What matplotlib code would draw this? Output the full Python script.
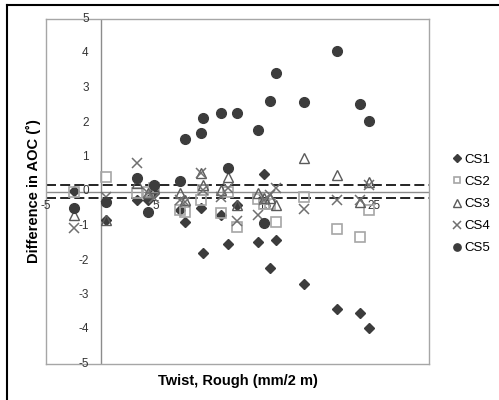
import numpy as np
import matplotlib.pyplot as plt
from matplotlib.lines import Line2D

plt.rcParams['font.family'] = ['Liberation Sans', 'DejaVu Sans']

# twist values shared by all series (mm/2 m)
twist = [-2.4, 0.45, 3.3, 4.3, 4.9, 7.2, 7.7, 9.15, 9.35, 11.0,
         11.6, 12.45, 14.35, 14.9, 15.45, 16.0, 18.6, 21.6, 23.7, 24.5]

cs1 = [0.02, -0.83, -0.25, -0.25, -0.05, -0.55, -0.87, -0.49, -1.79, -0.68,
       -1.52, -0.39, -1.47, 0.50, -2.21, -1.41, -2.69, -3.41, -3.51, -3.97]
cs2 = [0.0, 0.43, -0.05, 0.0, 0.09, -0.54, -0.6, -0.25, 0.04, -0.63,
       0.0, -1.04, -0.23, -0.35, -0.35, -0.89, -0.17, -1.1, -1.33, -0.54]
cs3 = [-0.68, -0.83, 0.24, -0.05, 0.1, -0.05, -0.25, 0.53, 0.2, 0.04,
       0.43, -0.39, -0.05, -0.2, -0.2, -0.39, 0.96, 0.48, -0.3, 0.28]
cs4 = [-1.07, -0.15, 0.82, -0.05, -0.2, -0.25, -0.3, 0.53, 0.04, -0.15,
       0.1, -0.85, -0.68, -0.25, -0.1, 0.09, -0.52, -0.25, -0.25, 0.19]
cs5 = [-0.49, -0.30, 0.38, -0.58, 0.19, 0.30, 1.51, 1.69, 2.14, 2.28,
       0.67, 2.27, 1.77, -0.92, 2.61, 3.43, 2.60, 4.07, 2.53, 2.04]

x_ticks = [-5, 5, 15, 25]
y_ticks = [-5, -4, -3, -2, -1, 0, 1, 2, 3, 4, 5]
tol = 0.2

fig = plt.figure(figsize=(4.99, 4.0), dpi=100)
ax = fig.add_axes([0.0922, 0.09, 0.7675, 0.8625])

ax.set_xlim(-5, 30)
ax.set_ylim(-5, 5)
ax.set_xticks([])
ax.set_yticks([])
for s in ax.spines.values():
    s.set_color('#a6a6a6')
    s.set_linewidth(1.0)

# axis lines through the origin
ax.axhline(0, color='#8c8c8c', lw=1.0, zorder=1)
ax.axvline(0, color='#8c8c8c', lw=1.0, zorder=1)
# tolerance band
for t in (tol, -tol):
    ax.axhline(t, color='black', lw=1.2, ls=(0, (6, 2.5)), zorder=1)

# tick labels next to the axes
for v in y_ticks:
    ax.text(-1.1, v, str(v), ha='right', va='center', fontsize=8.5, color='#333333')
for v in x_ticks:
    ax.text(v, -0.25, str(v), ha='center', va='top', fontsize=8.5, color='#333333')

ax.plot(twist, cs1, ls='none', marker='D', ms=5.5, color='#3c3c3c', label='CS1', zorder=3)
ax.plot(twist, cs2, ls='none', marker='s', ms=6.5, mfc='none', mec='#a6a6a6', mew=1.2,
        label='CS2', zorder=3)
ax.plot(twist, cs3, ls='none', marker='^', ms=7.5, mfc='none', mec='#5a5a5a', mew=1.0,
        label='CS3', zorder=3)
ax.plot(twist, cs4, ls='none', marker='x', ms=7, mec='#707070', mew=1.1, label='CS4', zorder=3)
ax.plot(twist, cs5, ls='none', marker='o', ms=7, color='#3c3c3c', label='CS5', zorder=3)

ax.set_xlabel('Twist, Rough (mm/2 m)', fontsize=10.5, fontweight='bold')
ax.set_ylabel('Difference in AOC (˚)', fontsize=10.5, fontweight='bold')
ax.xaxis.set_label_coords(0.5, -0.028)
ax.yaxis.set_label_coords(-0.012, 0.5)

leg = fig.legend(loc='center left', bbox_to_anchor=(0.905, 0.49), frameon=False,
                 fontsize=9.5, handlelength=0.8, handletextpad=0.2, labelspacing=0.75,
                 borderpad=0, borderaxespad=0, markerscale=0.75)

# outer chart border (cut off at the right and bottom)
fig.add_artist(Line2D([7 / 499, 1.0], [1 - 5 / 400, 1 - 5 / 400], color='black', lw=1.5))
fig.add_artist(Line2D([7 / 499, 7 / 499], [0.0, 1 - 5 / 400], color='black', lw=1.5))

fig.savefig('out.png', dpi=100)
